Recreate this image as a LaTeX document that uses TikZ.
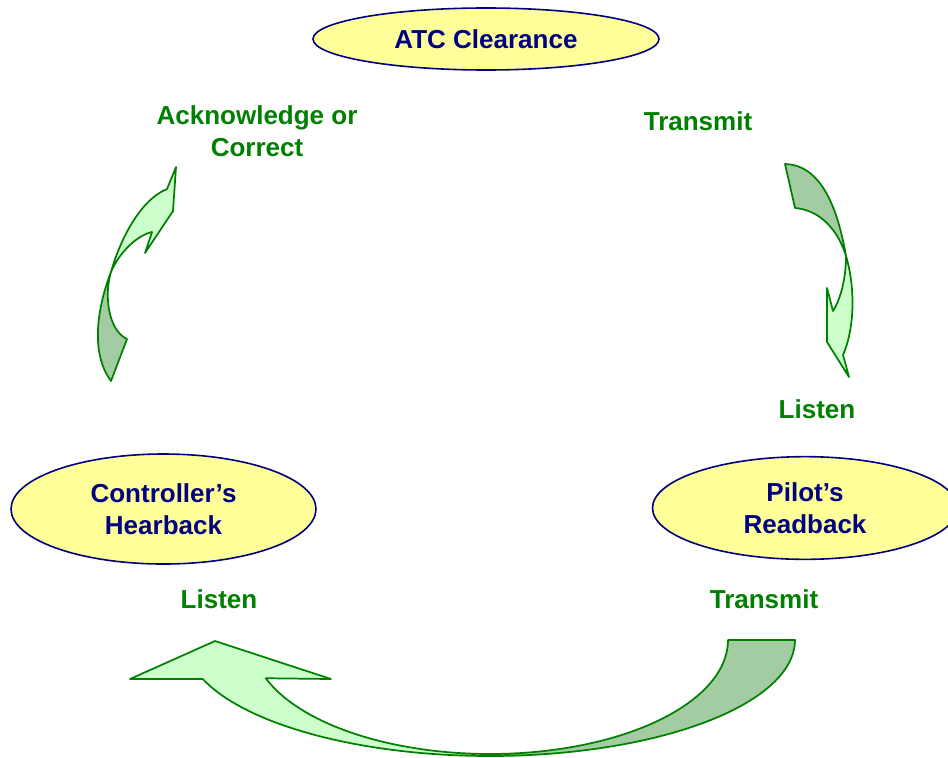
\documentclass[tikz,border=0pt]{standalone}
\usepackage{fontspec}
\setmainfont{Liberation Sans}
\usepackage{xcolor}
\usetikzlibrary{shapes.geometric}
\definecolor{navy}{HTML}{000080}
\definecolor{darkgreen}{HTML}{008000}
\definecolor{paleyellow}{HTML}{FFFF99}
\definecolor{palegreen}{HTML}{CCFFCC}
\definecolor{sagegreen}{HTML}{A3CCA3}

\begin{document}
\begin{tikzpicture}[x=0.75pt, y=-0.75pt, every node/.style={font=\fontsize{19.5pt}{24pt}\selectfont\bfseries}]
  \tikzstyle{stage} = [ellipse, draw=navy, line width=1.2pt, fill=paleyellow, text=navy, align=center, inner sep=0pt]
  \tikzstyle{action} = [text=darkgreen, align=center]
  \tikzstyle{front} = [draw=darkgreen, line width=1.3pt, fill=palegreen, line join=round]
  \tikzstyle{back} = [draw=darkgreen, line width=1.3pt, fill=sagegreen, line join=round]

  \useasboundingbox (0,0) rectangle (948,757);

  \node (clearance) [stage, minimum width=259.5pt, minimum height=46.5pt] at (486,39) {ATC Clearance};
  \node (hearback) [stage, minimum width=228.75pt, minimum height=82.5pt] at (163.5,509) {Controller’s\\Hearback};
  \node (readback) [stage, minimum width=228.75pt, minimum height=77pt] at (805,508) {Pilot’s\\Readback};

  \node (acknowledge) [action] at (257,131) {Acknowledge or\\Correct};
  \node (transmitclr) [action] at (698,121) {Transmit};
  \node (listenpilot) [action] at (817,409) {Listen};
  \node (transmitrb) [action] at (764,599) {Transmit};
  \node (listenctl) [action] at (219,599) {Listen};

  \draw [back] (785,164) .. controls (822,165) and (838,210) .. (846,256) .. controls (838,230) and (820,210) .. (795,208) -- cycle;
  \draw [front] (846,256) .. controls (856,290) and (854,330) .. (843,355) -- (849,377) -- (827,342) -- (827,288) -- (833,311) .. controls (840,300) and (846,280) .. (846,256) -- cycle;

  \draw [back] (728,640) -- (795,640)
    -- plot[domain=0:90, variable=\t, samples=40] ({490+305*cos(\t)}, {640+116*sin(\t)})
    -- plot[domain=90:0, variable=\t, samples=40] ({490+238*cos(\t)}, {640+114*sin(\t)}) -- cycle;
  \draw [front] plot[domain=90:160.4, variable=\t, samples=40] ({490+305*cos(\t)}, {640+116*sin(\t)})
    -- (130,679) -- (215,641) -- (331,679)
    -- plot[domain=160.4:90, variable=\t, samples=40] ({490+238*cos(\t)}, {640+114*sin(\t)}) -- cycle;

  \draw [back] (111,272) .. controls (100,300) and (88,350) .. (111,381) -- (127,339) .. controls (108,330) and (104,295) .. (111,272) -- cycle;
  \draw [front] (111,272) .. controls (120,240) and (140,200) .. (167,189) -- (176,167) -- (173,211) -- (145,253) -- (152,232) .. controls (135,236) and (118,255) .. (111,272) -- cycle;
\end{tikzpicture}
\end{document}
